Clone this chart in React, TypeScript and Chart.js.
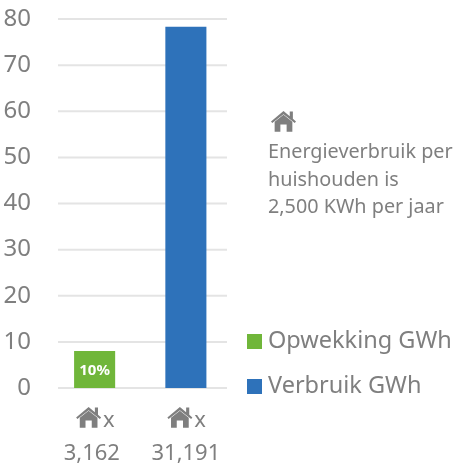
import React, { useEffect, useRef } from "react";
import { Chart, registerables } from "chart.js";

Chart.register(...registerables);

const categories = [["     x", "3,162 "], ["     x", "31,191"]];
const opwekking = [8, null];
const verbruik = [null, 78.3];
const barLabels = ["10%", ""];
const yTicks = { min: 0, max: 80, step: 10 };
const noteLines = ["Energieverbruik per", "huishouden is", "2,500 KWh per jaar"];
const seriesNames = ["Opwekking GWh", "Verbruik GWh"];

const GREEN = "#70B63A";
const BLUE = "#2E72BA";
const GREY = "#7F7F7F";
const GRID = "#E4E4E4";
const FONT = '"Noto Sans", sans-serif';

function drawHouse(ctx: CanvasRenderingContext2D, cx: number, cy: number, s: number) {
  // s = half width of the roof; (cx, cy) = apex of the roof
  ctx.save();
  ctx.fillStyle = GREY;
  const u = s / 12;
  const p = (x: number, y: number): [number, number] => [cx + x * u, cy + y * u];
  ctx.beginPath();
  ctx.moveTo(...p(0, 0));
  ctx.lineTo(...p(6, 5));
  ctx.lineTo(...p(6, 0.5));
  ctx.lineTo(...p(9, 0.5));
  ctx.lineTo(...p(9, 7.5));
  ctx.lineTo(...p(12, 10));
  ctx.lineTo(...p(10.8, 11.5));
  ctx.lineTo(...p(0, 3));
  ctx.lineTo(...p(-10.8, 11.5));
  ctx.lineTo(...p(-12, 10));
  ctx.closePath();
  ctx.fill();
  ctx.beginPath();
  ctx.moveTo(...p(0, 3.6));
  ctx.lineTo(...p(8.5, 10.4));
  ctx.lineTo(...p(8.5, 20));
  ctx.lineTo(...p(3, 20));
  ctx.lineTo(...p(3, 13));
  ctx.lineTo(...p(-3, 13));
  ctx.lineTo(...p(-3, 20));
  ctx.lineTo(...p(-8.5, 20));
  ctx.lineTo(...p(-8.5, 10.4));
  ctx.closePath();
  ctx.fill();
  ctx.restore();
}

const gridLines = {
  id: "gridLines",
  beforeDatasetsDraw(chart: any) {
    const { ctx, scales } = chart;
    ctx.save();
    ctx.strokeStyle = GRID;
    ctx.lineWidth = 2;
    scales.y.ticks.forEach((t: any) => {
      const y = scales.y.getPixelForValue(t.value);
      ctx.beginPath();
      ctx.moveTo(58, y);
      ctx.lineTo(227, y);
      ctx.stroke();
    });
    ctx.restore();
  },
};

const decorations = {
  id: "decorations",
  afterDraw(chart: any) {
    const { ctx, scales } = chart;
    ctx.save();
    ctx.textBaseline = "alphabetic";

    // Bar value label
    const bar = chart.getDatasetMeta(0).data[0];
    ctx.fillStyle = "#FFFFFF";
    ctx.font = `bold 15px ${FONT}`;
    ctx.textAlign = "center";
    ctx.fillText(barLabels[0], bar.x, 375);

    // Houses on the category axis
    categories.forEach((_, i) => {
      drawHouse(ctx, scales.x.getPixelForTick(i) - 6, 407, 12.5);
    });

    // Note
    drawHouse(ctx, 283.5, 111, 12.5);
    ctx.fillStyle = GREY;
    ctx.textAlign = "left";
    ctx.font = `19.8px ${FONT}`;
    noteLines.forEach((line, i) => ctx.fillText(line, 268, 158 + i * 27.5));

    // Legend
    [GREEN, BLUE].forEach((c, i) => {
      const y = 334 + i * 45;
      ctx.fillStyle = c;
      ctx.fillRect(247, y, 15, 15);
      ctx.fillStyle = GREY;
      ctx.font = `23.5px ${FONT}`;
      ctx.fillText(seriesNames[i], 268, y + 14);
    });
    ctx.restore();
  },
};

export default function App() {
  const ref = useRef<HTMLCanvasElement>(null);
  useEffect(() => {
    document.body.style.margin = "0";
    const chart = new Chart(ref.current!, {
      type: "bar",
      data: {
        labels: categories as any,
        datasets: [
          { label: seriesNames[0], data: opwekking as any, backgroundColor: GREEN },
          { label: seriesNames[1], data: verbruik as any, backgroundColor: BLUE },
        ],
      },
      options: {
        responsive: false,
        animation: false,
        layout: { padding: { top: 19, right: 225.5, left: 0, bottom: 0 } },
        plugins: { legend: { display: false }, tooltip: { enabled: false } },
        datasets: { bar: { barPercentage: 1, categoryPercentage: 0.45 } },
        scales: {
          x: {
            stacked: true,
            afterFit(s: any) { s.height = 80; },
            grid: { display: false },
            border: { display: false },
            ticks: { color: GREY, font: { size: 22, family: FONT, lineHeight: 1.5 }, padding: 8, maxRotation: 0 },
          },
          y: {
            stacked: true,
            min: yTicks.min,
            max: yTicks.max,
            afterFit(s: any) { s.width = 49; s.paddingTop = 0; s.paddingBottom = 0; },
            grid: { display: false },
            border: { display: false },
            ticks: { stepSize: yTicks.step, color: GREY, font: { size: 24, family: FONT }, padding: 10 },
          },
        },
      } as any,
      plugins: [gridLines, decorations],
    });
    return () => chart.destroy();
  }, []);
  return <canvas ref={ref} width={457} height={468} style={{ display: "block" }} />;
}
